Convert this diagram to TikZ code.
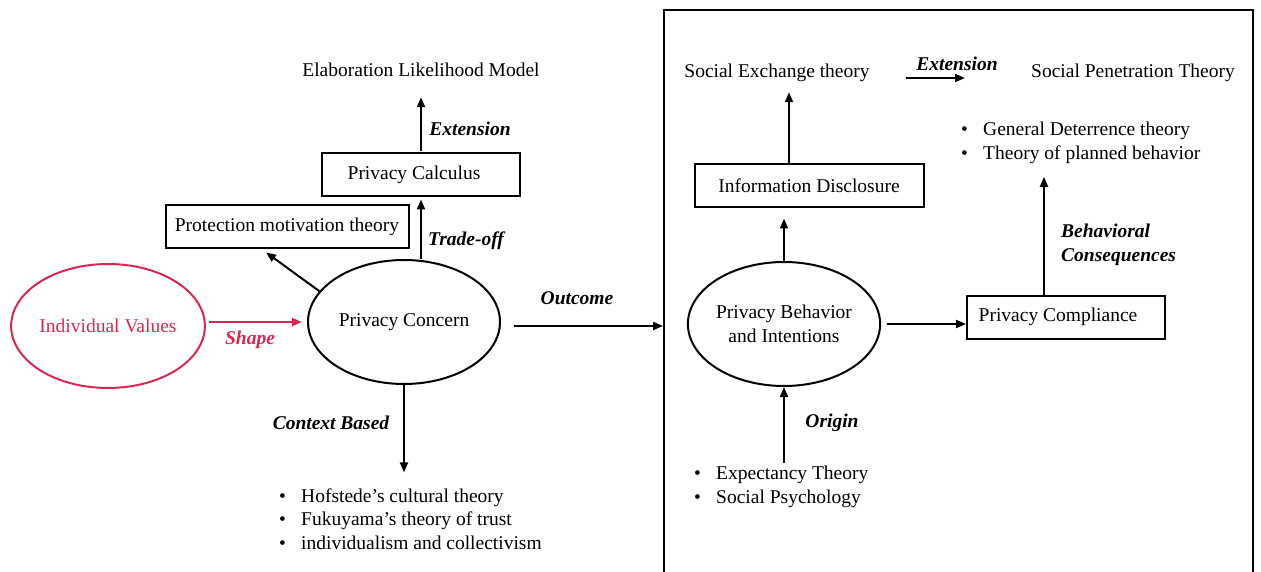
\documentclass[tikz,border=0pt]{standalone}
\usepackage{fontspec}
\setmainfont{Liberation Serif}
\usetikzlibrary{shapes.geometric,arrows.meta}
\definecolor{valred}{RGB}{216,40,82}
\newcommand{\bul}{\makebox[22pt][l]{\textbullet}}

\begin{document}
\begin{tikzpicture}
[every node/.style={inner sep=3pt, font=\fontsize{19.5pt}{23.5pt}\selectfont},
 oval/.style={ellipse, draw=black, line width=2pt, minimum width=192pt, minimum height=124pt, inner sep=0pt, align=center},
 box/.style={rectangle, draw=black, line width=2pt, minimum height=43pt},
 txt/.style={text height=14pt, text depth=4pt},
 lbl/.style={font=\fontsize{19.5pt}{23.5pt}\selectfont\bfseries\itshape},
 arr/.style={line width=2pt, -{Triangle[length=10pt,width=8pt]}}]
\clip (0pt,0pt) rectangle (1261pt,-572pt);
% left half
\node (values) [oval, draw=valred, text=valred] at (108pt, -326pt) {Individual Values};
\node (concern) [oval] at (404pt, -322pt) {Privacy Concern};
\node (pmt) [box, minimum width=243pt] at (287pt, -227pt) {Protection motivation theory};
\node (calc) [box, minimum width=198pt] at (421pt, -175pt) {\hspace*{-14pt}Privacy Calculus};
\node (elm) [txt] at (421pt, -72pt) {Elaboration Likelihood Model};
\node (ctxlist) [align=left, anchor=west] at (276pt, -519pt) {\bul Hofstede’s cultural theory\\ \bul Fukuyama’s theory of trust\\ \bul individualism and collectivism};
% right half
\node (frame) [rectangle, draw=black, line width=2pt, minimum width=589pt, minimum height=620pt] at (958.5pt, -320pt) {};
\node (behav) [oval] at (784pt, -324pt) {Privacy Behavior\\and Intentions};
\node (disc) [box, minimum width=229pt] at (809pt, -186pt) {Information Disclosure};
\node (sxt) [txt] at (777pt, -73pt) {Social Exchange theory};
\node (spt) [txt] at (1133pt, -73pt) {Social Penetration Theory};
\node (comp) [box, minimum width=198pt] at (1066pt, -317pt) {\hspace*{-16pt}Privacy Compliance};
\node (gdtlist) [align=left, anchor=west] at (958pt, -143pt) {\bul General Deterrence theory\\ \bul Theory of planned behavior};
\node (explist) [align=left, anchor=west] at (691pt, -487pt) {\bul Expectancy Theory\\ \bul Social Psychology};
% connectors
\draw [arr, draw=valred, shorten <=3pt, shorten >=5pt] (values.east |- concern.west) -- (concern.west);
\draw [arr, shorten >=5pt] (concern.160) -- ([xshift=-25pt]pmt.south);
\draw [arr, shorten >=2pt] ([xshift=17pt]concern.north) -- (calc.south);
\draw [arr, shorten <=1pt, shorten >=13pt] (calc.north) -- (elm.south);
\draw [arr, shorten >=13pt] (concern.south) -- (concern.south |- ctxlist.north);
\draw [arr, shorten <=13pt] ([yshift=-4pt]concern.east) -- ([yshift=-4pt]concern.east -| frame.west);
\draw [arr, shorten >=10pt] (behav.north) -- (behav.north |- disc.south);
\draw [arr, shorten >=7pt] ([xshift=-20pt]disc.north) -- ([xshift=-20pt]disc.north |- sxt.south);
\draw [arr, shorten <=33pt, shorten >=63pt] ([yshift=-5pt]sxt.east) -- ([yshift=-5pt]spt.west);
\draw [arr, shorten <=6pt] (behav.east) -- (behav.east -| comp.west);
\draw [arr, shorten >=10pt] ([xshift=-22pt]comp.north) -- ([xshift=-22pt]comp.north |- gdtlist.south);
\draw [arr] (behav.south |- explist.north) -- (behav.south);
% labels
\node (shape) [lbl, text=valred] at (250pt, -340pt) {Shape};
\node (tradeoff) [lbl] at (466pt, -241pt) {Trade-off};
\node (ext1) [lbl] at (470pt, -129pt) {Extension};
\node (outcome) [lbl] at (577pt, -298pt) {Outcome};
\node (context) [lbl] at (331pt, -423pt) {Context Based};
\node (ext2) [lbl] at (957pt, -64pt) {Extension};
\node (conseq) [lbl, align=left, anchor=west] at (1058pt, -245pt) {Behavioral\\Consequences};
\node (origin) [lbl] at (832pt, -423pt) {Origin};
\end{tikzpicture}
\end{document}
